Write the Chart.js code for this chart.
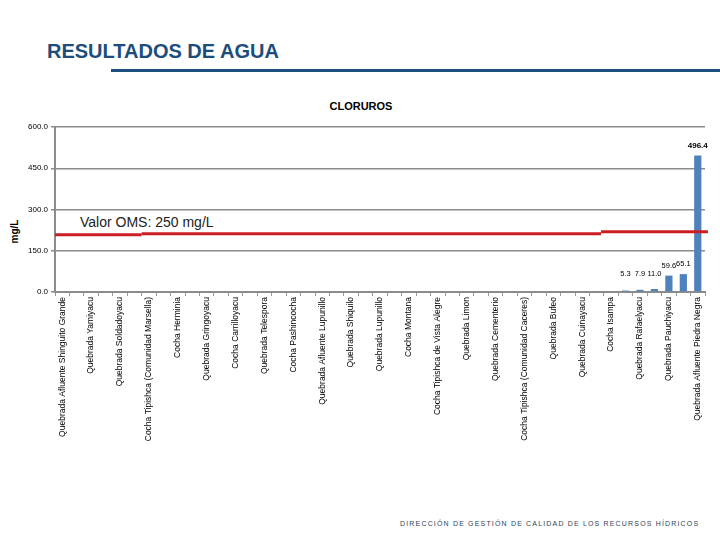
<!DOCTYPE html>
<html>
<head>
<meta charset="utf-8">
<script src="https://cdn.jsdelivr.net/npm/chart.js@4.4.1/dist/chart.umd.min.js"></script>
<style>
  body{margin:0;width:720px;height:540px;background:#fff;position:relative;overflow:hidden;font-family:'Liberation Sans',Arial,sans-serif}
  #c{position:absolute;left:0;top:0}
  .t{position:absolute;white-space:nowrap}
</style>
</head>
<body>
<div class="t" style="left:47px;top:40px;font-size:20px;font-weight:bold;color:#1c4d7c;">RESULTADOS DE AGUA</div>
<div class="t" style="left:111px;top:69px;width:609px;height:3px;background:#1c4d7c;"></div>
<div class="t" style="left:301px;top:100px;width:120px;text-align:center;font-size:11px;font-weight:bold;color:#000;">CLORUROS</div>
<div class="t" style="left:-6px;top:226px;width:40px;text-align:center;font-size:10px;font-weight:bold;color:#000;transform:rotate(-90deg);">mg/L</div>
<div class="t" style="left:80px;top:214px;font-size:14px;color:#222;">Valor OMS: 250 mg/L</div>
<div class="t" style="left:400px;top:520px;font-size:7px;letter-spacing:1.17px;color:#2f4356;">DIRECCIÓN DE GESTIÓN DE CALIDAD DE LOS RECURSOS HÍDRICOS</div>
<canvas id="c" width="720" height="540"></canvas>
<script>
// Sampling points (only every other name is printed on the reference axis)
const categories = [
  'Quebrada Afluente Shinguito Grande','',
  'Quebrada Yamiyacu','',
  'Quebrada Soldadoyacu','',
  'Cocha Tipishca (Comunidad Marsella)','',
  'Cocha Herminia','',
  'Quebrada Gringoyacu','',
  'Cocha Carrilloyacu','',
  'Quebrada Telespora','',
  'Cocha Pashincocha','',
  'Quebrada Afluente Lupunillo','',
  'Quebrada Shiquilo','',
  'Quebrada Lupunillo','',
  'Cocha Montana','',
  'Cocha Tipishca de Vista Alegre','',
  'Quebrada Limon','',
  'Quebrada Cementerio','',
  'Cocha Tipishca (Comunidad Caceres)','',
  'Quebrada Bufeo','',
  'Quebrada Cuinayacu','',
  'Cocha Isampa','',
  'Quebrada Rafaelyacu','',
  'Quebrada Pauchiyacu','',
  'Quebrada Afluente Piedra Negra'
];
// Cloruros (mg/L)
const cloruros = [
  0,0,0,0,0,0,0,0,0,0,
  0,0,0,0,0,0,0,0,0,0,
  0,0,0,0,0,0,0,0,0,0,
  0,0,0,0,0,0,0,2.0,2.6,5.3,
  7.9,11.0,59.6,65.1,496.4
];
const yTicks = [0,150,300,450,600];
// OMS reference line as drawn in the picture (category-index ranges, value in mg/L)
const omsFrom  = [-0.5, 5.5, 37.3];
const omsTo    = [5.5, 37.3, 44.7];
const omsValue = [208, 212, 219];
const labelMin = 5;

const FONT = "'Liberation Sans Narrow','Arial Narrow','Liberation Sans',Arial,sans-serif";

const overlay = {
  id:'overlay',
  afterDatasetsDraw(chart){
    const ctx = chart.ctx, x = chart.scales.x, y = chart.scales.y;
    const meta = chart.getDatasetMeta(0);
    const maxV = Math.max(...cloruros);
    ctx.save();
    ctx.textAlign='center'; ctx.textBaseline='middle'; ctx.fillStyle='#000';
    meta.data.forEach((bar,i)=>{
      const v = cloruros[i];
      if (v < labelMin) return;
      ctx.font = (v===maxV?'bold 8px ':'7.5px ') + FONT;
      ctx.fillText(v.toFixed(1), bar.x, Math.min(bar.y, y.getPixelForValue(30)) - 10);
    });
    const step = x.getPixelForValue(1) - x.getPixelForValue(0);
    const x0 = x.getPixelForValue(0);
    ctx.strokeStyle='#cc1d22'; ctx.lineWidth=3;
    for (let k=0;k<omsValue.length;k++){
      const py = y.getPixelForValue(omsValue[k]);
      ctx.beginPath();
      ctx.moveTo(x0 + omsFrom[k]*step, py);
      ctx.lineTo(x0 + omsTo[k]*step, py);
      ctx.stroke();
    }
    ctx.restore();
  }
};

new Chart(document.getElementById('c'), {
  type:'bar',
  data:{ labels: categories, datasets:[{ data: cloruros, backgroundColor:'#4f81bd', barPercentage:0.5, categoryPercentage:1.0 }] },
  options:{
    responsive:false, animation:false,
    layout:{ padding:{ left:20, right:15, top:127, bottom:0 } },
    plugins:{ legend:{display:false}, tooltip:{enabled:false} },
    scales:{
      x:{
        offset:true,
        grid:{ drawOnChartArea:false, drawTicks:true, tickLength:4, color:'#9a9a9a', offset:true },
        border:{ color:'#8c8c8c', width:2 },
        ticks:{ autoSkip:false, maxRotation:90, minRotation:90, color:'#000', padding:1, font:{ family:FONT, size:8.5 } },
        afterFit(s){ s.height = 248; }
      },
      y:{
        min:0, max:600,
        afterBuildTicks(s){ s.ticks = yTicks.map(v=>({value:v})); },
        ticks:{ color:'#000', padding:3, font:{ family:FONT, size:8 }, callback:v=>Number(v).toFixed(1) },
        grid:{ color:'#8c8c8c', lineWidth:1.5, tickLength:4 },
        border:{ color:'#8c8c8c', width:2 },
        afterFit(s){ s.width = 35; }
      }
    }
  },
  plugins:[overlay]
});
</script>
</body>
</html>
